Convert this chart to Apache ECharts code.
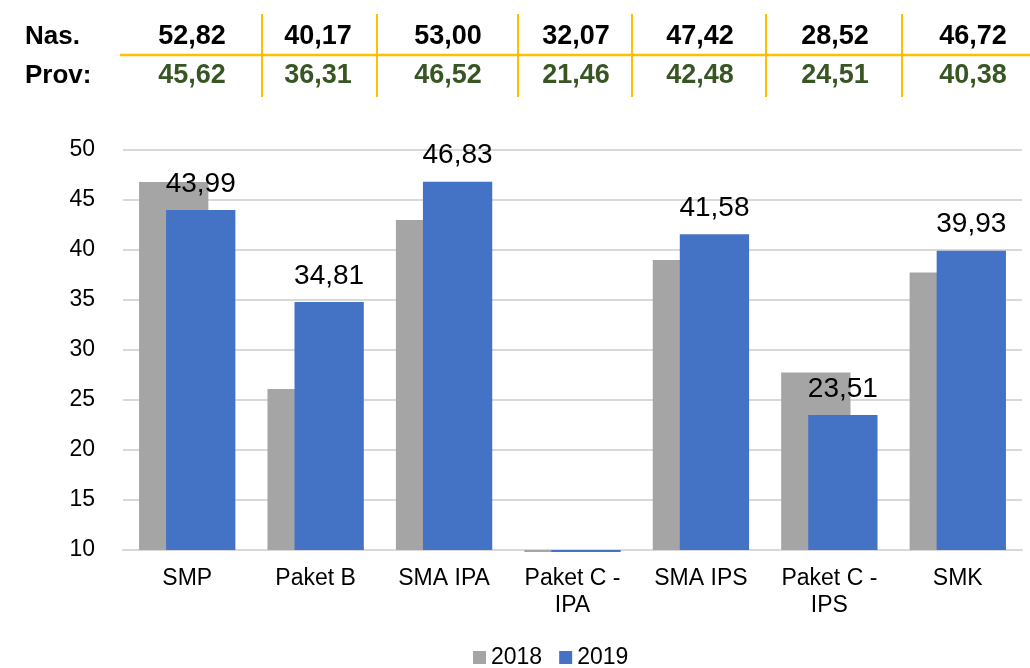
<!DOCTYPE html>
<html>
<head>
<meta charset="utf-8">
<title>Rata-rata UN</title>
<script src="https://cdn.jsdelivr.net/npm/echarts@6/dist/echarts.min.js"></script>
<style>
  html, body { margin: 0; padding: 0; background: #fff; }
  #unChart { width: 1030px; height: 668px; }
</style>
</head>
<body>
<div id="unChart"></div>
<script>
// kategori jenjang
var categories = ["SMP", "Paket B", "SMA IPA", "Paket C - IPA", "SMA IPS", "Paket C - IPS", "SMK"];
// nilai per tahun
var values2018 = [46.8, 26.1, 43.0, 9.8, 39.0, 27.75, 37.75];
var values2019 = [43.99, 34.81, 46.83, 9.8, 41.58, 23.51, 39.93];
// tabel atas: nasional & provinsi
var nasional = ["52,82", "40,17", "53,00", "32,07", "47,42", "28,52", "46,72"];
var provinsi = ["45,62", "36,31", "46,52", "21,46", "42,48", "24,51", "40,38"];
var yTicks = { min: 10, max: 50, interval: 5 };

// posisi kolom tabel (layout saja)
var colCenters = [192, 318, 448, 576, 700, 835, 973];
var colLines = [262, 377, 518, 632, 766, 902];

var FONT = "'Liberation Sans', Arial, sans-serif";

function toComma(v) {
  return v.toFixed(2).replace(".", ",");
}

function buildTable() {
  var g = [];
  // garis horizontal kuning
  g.push({
    type: "line",
    shape: { x1: 120, y1: 55, x2: 1030, y2: 55 },
    style: { stroke: "#FFC000", lineWidth: 2.5 }
  });
  colLines.forEach(function(x) {
    g.push({
      type: "line",
      shape: { x1: x, y1: 14, x2: x, y2: 97 },
      style: { stroke: "#FFC000", lineWidth: 2 }
    });
  });
  g.push({
    type: "text", x: 25, y: 36.5,
    style: { text: "Nas.", font: "bold 26px " + FONT, fill: "#000", align: "left", verticalAlign: "middle" }
  });
  g.push({
    type: "text", x: 25, y: 76,
    style: { text: "Prov:", font: "bold 26px " + FONT, fill: "#000", align: "left", verticalAlign: "middle" }
  });
  nasional.forEach(function(t, i) {
    g.push({
      type: "text", x: colCenters[i], y: 36.5,
      style: { text: t, font: "bold 27px " + FONT, fill: "#000", align: "center", verticalAlign: "middle" }
    });
  });
  provinsi.forEach(function(t, i) {
    g.push({
      type: "text", x: colCenters[i], y: 76,
      style: { text: t, font: "bold 27px " + FONT, fill: "#375623", align: "center", verticalAlign: "middle" }
    });
  });
  return g;
}

var chart = echarts.init(document.getElementById("unChart"), null, { renderer: "canvas" });

chart.setOption({
  animation: false,
  backgroundColor: "#fff",
  textStyle: { fontFamily: FONT },
  graphic: buildTable(),
  grid: {
    left: 123,
    right: 8,
    top: 150,
    bottom: 118,
    containLabel: false
  },
  legend: {
    left: 468,
    top: 641,
    itemWidth: 13,
    itemHeight: 13,
    itemGap: 17,
    icon: "rect",
    textStyle: { fontSize: 23, color: "#000", fontFamily: FONT },
    data: ["2018", "2019"]
  },
  xAxis: {
    type: "category",
    data: categories,
    axisTick: { show: false },
    axisLine: { lineStyle: { color: "#D9D9D9", width: 2 } },
    axisLabel: {
      color: "#000",
      fontSize: 23,
      lineHeight: 27,
      margin: 15,
      interval: 0,
      formatter: function(v) {
        return v.replace(" - ", " -\n");
      }
    }
  },
  yAxis: {
    type: "value",
    min: yTicks.min,
    max: yTicks.max,
    interval: yTicks.interval,
    startValue: yTicks.min,
    axisLine: { show: false },
    axisTick: { show: false },
    axisLabel: { color: "#000", fontSize: 23, margin: 28 },
    splitLine: { lineStyle: { color: "#D9D9D9", width: 2 } }
  },
  series: [
    {
      name: "2018",
      type: "bar",
      data: values2018,
      barCategoryGap: "25%",
      barGap: "-61%",
      clip: false,
      itemStyle: { color: "#A5A5A5" }
    },
    {
      name: "2019",
      type: "bar",
      data: values2019,
      barCategoryGap: "25%",
      barGap: "-61%",
      clip: false,
      itemStyle: { color: "#4472C4" },
      label: {
        show: true,
        position: "top",
        distance: 12,
        color: "#000",
        fontSize: 28,
        formatter: function(p) {
          return p.value < yTicks.min ? "" : toComma(p.value);
        }
      }
    }
  ]
});

window.onresize = function() {
  chart.resize();
};
</script>
</body>
</html>
